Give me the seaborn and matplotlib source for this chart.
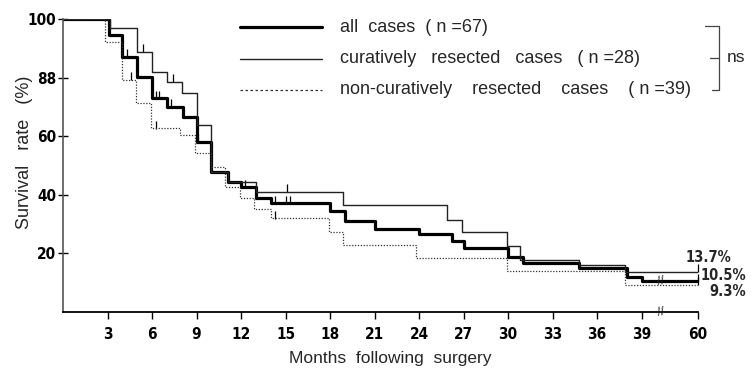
import numpy as np
import pandas as pd
import matplotlib.pyplot as plt
from matplotlib.lines import Line2D
import seaborn as sns

# Kaplan-Meier steps (months, survival %)
all_t = [0, 3.1, 4.0, 5.0, 6.0, 7.0, 8.1, 9.0, 10.0, 11.1, 12.0, 13.0, 14.0, 18.0, 19.0,
         21.0, 24.0, 26.2, 27.0, 30.0, 31.0, 34.8, 38.0, 39.0, 60]
all_s = [100, 94.5, 87.1, 80.3, 72.9, 70.1, 66.4, 58.1, 47.9, 44.5, 42.5, 39.0, 37.1, 34.6, 31.2,
         28.2, 26.5, 24.2, 21.9, 18.9, 16.6, 14.9, 12.1, 10.5, 10.5]
all_cens = [4.3, 6.3, 6.5, 7.3, 9.1, 12.3, 14.3, 15.0, 15.3, 60]

cur_t = [0, 3.2, 5.0, 6.0, 7.0, 8.0, 9.0, 10.0, 11.1, 13.0, 18.9, 25.9, 26.9, 29.9, 30.8,
         34.8, 37.9, 60]
cur_s = [100, 96.8, 88.8, 82.0, 78.6, 74.6, 63.8, 47.9, 44.5, 41.1, 36.4, 31.4, 27.2, 22.6, 17.7,
         16.0, 13.7, 13.7]
cur_cens = [5.4, 7.4, 15.1, 60]

non_t = [0, 2.8, 4.0, 4.9, 5.9, 7.9, 8.9, 10.0, 10.9, 11.9, 12.9, 14.0, 17.9, 18.9, 23.8,
         29.9, 37.9, 60]
non_s = [100, 92.3, 79.2, 71.2, 62.7, 60.4, 54.2, 49.6, 42.8, 38.8, 35.0, 32.0, 27.4, 22.9, 18.3,
         14.1, 9.3, 9.3]
non_cens = [4.6, 6.3, 14.3, 60]

x_ticks = [3, 6, 9, 12, 15, 18, 21, 24, 27, 30, 33, 36, 39, 60]
y_ticks = [20, 40, 60, 80, 100]
y_labels = ["20", "40", "60", "88", "100"]

end_labels = ["13.7%", "10.5%", "9.3%"]

# broken axis: 39 -> 60 squeezed into a short stretch
BREAK, SQ = 39.0, 3.8 / 21.0


def fwd(x):
    x = np.asarray(x, dtype=float)
    return np.where(x <= BREAK, x, BREAK + (x - BREAK) * SQ)


def inv(x):
    x = np.asarray(x, dtype=float)
    return np.where(x <= BREAK, x, BREAK + (x - BREAK) / SQ)


def at(t, s, c):
    idx = np.searchsorted(t, c, side="right") - 1
    return np.asarray(s)[idx]


sns.set_theme(style="ticks")
plt.rcParams["font.family"] = ["Liberation Sans", "DejaVu Sans"]
num_font = dict(family="DejaVu Sans", weight="bold", stretch="condensed")

fig = plt.figure(figsize=(7.55, 3.71), dpi=100)
ax = fig.add_axes([63 / 755, 59 / 371, 635 / 755, 293 / 371])
ax.set_xscale("function", functions=(fwd, inv))

series = [
    (all_t, all_s, all_cens, dict(color="black", linewidth=2.3)),
    (cur_t, cur_s, cur_cens, dict(color="#222222", linewidth=1.0)),
    (non_t, non_s, non_cens, dict(color="#333333", linewidth=0.9, linestyle=(0, (1, 1.3)))),
]
for t, s, cens, kw in series:
    df = pd.DataFrame({"t": t, "s": s})
    sns.lineplot(data=df, x="t", y="s", ax=ax, drawstyle="steps-post",
                 estimator=None, sort=False, **kw)
    cy = at(t, s, cens)
    ax.scatter(cens, np.asarray(cy) + 1.2, marker="|", s=40,
               color="black", linewidths=0.9, clip_on=False)

ax.set_xlim(0, 60)
ax.set_ylim(0, 100)
sns.despine(ax=ax)
ax.spines["left"].set_color("#555555")
ax.spines["left"].set_linewidth(1.2)
ax.spines["bottom"].set_color("black")
ax.spines["bottom"].set_linewidth(1.3)
ax.set_xticks(x_ticks)
ax.set_xticklabels([str(v) for v in x_ticks], fontdict=dict(size=11, **num_font))
ax.set_yticks(y_ticks)
ax.set_yticklabels(y_labels, fontdict=dict(size=11, **num_font))
ax.tick_params(axis="x", direction="out", length=5, width=1, pad=6, colors="black")
ax.tick_params(axis="y", direction="inout", length=7, width=1, pad=1.5, colors="black")
ax.set_xlabel("Months  following  surgery", fontsize=12.5)
ax.set_ylabel("Survival   rate   (%)", fontsize=13)
ax.xaxis.set_label_coords((390 - 63) / 635, (312 - 351) / 293)
ax.yaxis.set_label_coords((33 - 63) / 635, (312 - 152) / 293)

# axis break marks (at 40.3 on the squeezed axis)
for yv in (10.5, 0):
    ax.text(46.2, yv, "//", ha="center", va="center", fontsize=9, rotation=10,
            clip_on=False)

# legend drawn by hand
W, H = 755, 371
legend_items = [
    ("all  cases  ( n =67)", dict(color="black", linewidth=2.3)),
    ("curatively   resected   cases   ( n =28)", dict(color="#222222", linewidth=1.0)),
    ("non-curatively    resected    cases    ( n =39)", dict(color="#333333", linewidth=0.9,
                                                              linestyle=(0, (2, 2)))),
]
for i, (lab, kw) in enumerate(legend_items):
    yy = 1 - (27 + 31.5 * i) / H
    fig.add_artist(Line2D([240 / W, 322 / W], [yy, yy], **kw))
    fig.text(340 / W, yy, lab, fontsize=13, va="center", ha="left")

# ns bracket
bx = 719 / W
fig.add_artist(Line2D([bx, bx], [1 - 26 / H, 1 - 90 / H], color="#444444", linewidth=0.9))
for yp, x0 in ((26, 705), (58, 710), (90, 712)):
    fig.add_artist(Line2D([x0 / W, bx], [1 - yp / H, 1 - yp / H], color="#444444", linewidth=0.9))
fig.text(727 / W, 1 - 58 / H, "ns", fontsize=12.5, va="center", ha="left")

# final survival labels
for lab, (px, py) in zip(end_labels, [(731, 257), (746, 275), (746, 291)]):
    fig.text(px / W, 1 - py / H, lab, ha="right", va="center", size=10.5, **num_font)

fig.savefig("out.png", dpi=100)
